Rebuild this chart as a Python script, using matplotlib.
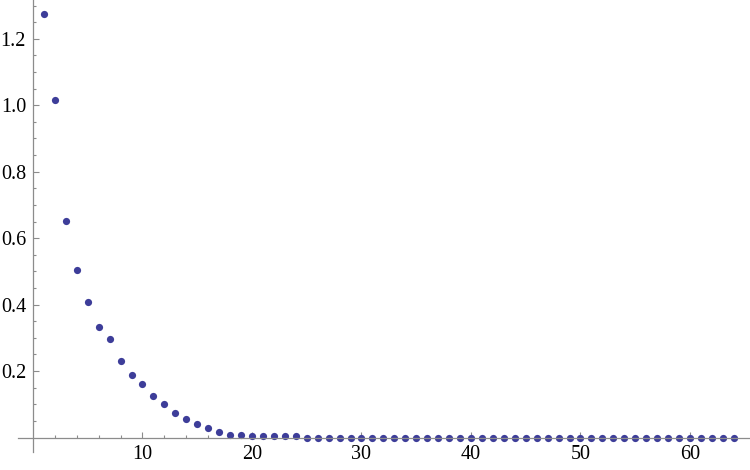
import numpy as np
import matplotlib
matplotlib.use("Agg")
from matplotlib import pyplot as plt
from matplotlib.ticker import FixedLocator

# values, index n = 1..64
yFirst = [1.274, 1.016, 0.651, 0.505, 0.409, 0.333, 0.296, 0.229, 0.187, 0.162,
          0.125, 0.100, 0.075, 0.055, 0.041, 0.028, 0.016, 0.008, 0.008, 0.004,
          0.004, 0.004, 0.004, 0.004]
yTail = [0.0] * 40
yValues = yFirst + yTail
xValues = list(range(1, len(yValues) + 1))

xMajor = [10, 20, 30, 40, 50, 60]
yMajor = [0.2, 0.4, 0.6, 0.8, 1.0, 1.2]

plt.rcParams['font.family'] = 'serif'
plt.rcParams['font.serif'] = ['Liberation Serif', 'DejaVu Serif']

fig = plt.figure(figsize=(7.5, 4.7), dpi=100)
ax = fig.add_axes([0, 0, 1, 1])
ax.set_xlim(-3.01, 65.48)
ax.set_ylim(-0.0978, 1.3166)

ax.plot(xValues, yValues, 'o', color='#3d3d99', markersize=5.2,
        markeredgewidth=0, clip_on=False)

axisColor = '#8c8c8c'
for side in ['top', 'right']:
    ax.spines[side].set_visible(False)
ax.spines['left'].set_position(('data', 0))
ax.spines['bottom'].set_position(('data', 0))
ax.spines['left'].set_bounds(-0.043, 1.3166)
ax.spines['bottom'].set_bounds(-1.4, 65.48)
for side in ['left', 'bottom']:
    ax.spines[side].set_color(axisColor)
    ax.spines[side].set_linewidth(0.9)

ax.xaxis.set_major_locator(FixedLocator(xMajor))
ax.xaxis.set_minor_locator(FixedLocator([v for v in range(2, 65, 2) if v % 10]))
ax.yaxis.set_major_locator(FixedLocator(yMajor))
ax.yaxis.set_minor_locator(FixedLocator([v / 100 for v in range(5, 131, 5) if v % 20]))
ax.set_xticklabels([str(v) for v in xMajor])
ax.set_yticklabels(["%.1f" % v for v in yMajor])

ax.tick_params(which='both', direction='in', color=axisColor, width=0.8,
               labelsize=14.5, labelcolor='black')
ax.tick_params(which='major', length=4.6)
ax.tick_params(which='minor', length=2.4)
ax.tick_params(axis='x', pad=5.5)
ax.tick_params(axis='y', pad=5)

fig.savefig('out.png', dpi=100)
